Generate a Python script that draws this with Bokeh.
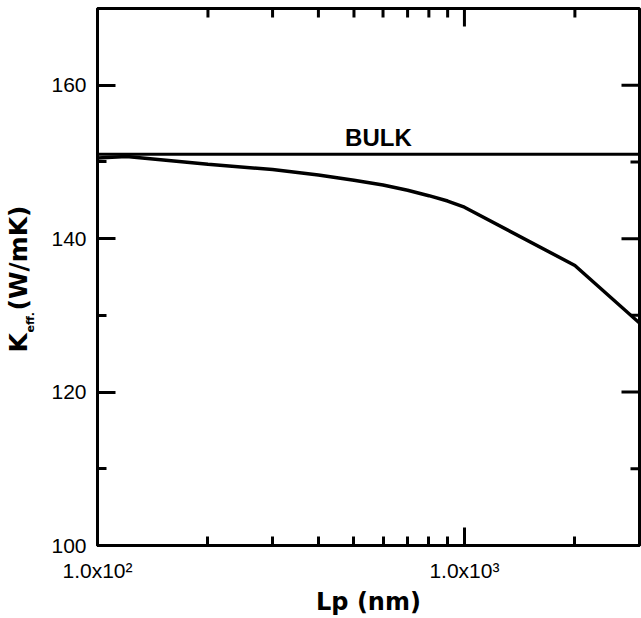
from bokeh.plotting import figure
from bokeh.layouts import row
from bokeh.models import Range1d, FixedTicker, SingleIntervalTicker, Span, Label
from bokeh.embed import file_html
from bokeh.resources import INLINE
import math

# ---- data ----
lp_nm = [100, 120, 200, 300, 400, 500, 600, 700, 800, 900, 1000, 2000, 3000]
k_eff = [150.5, 150.7, 149.7, 149.0, 148.3, 147.6, 147.0, 146.3, 145.6, 144.9, 144.1, 136.5, 129.0]
bulk_k = 151.0
bulk_text = "BULK"
x_major = [100, 1000]
x_minor = [200, 300, 400, 500, 600, 700, 800, 900, 2000, 3000]
x_tick_labels = {100: "1.0x10\u00b2", 1000: "1.0x10\u00b3"}
y_major = [100, 120, 140, 160]
y_minor = [110, 130, 150, 170]
x_title = "Lp (nm)"
y_title_main, y_title_sub, y_title_unit = "K", "eff.", "(W/mK)"

X_MIN, X_MAX = 100, 3000
Y_MIN, Y_MAX = 100, 170
H = 618
LEFT_W = 45
TOP_B, BOT_B = 8, 73

# ---- narrow panel holding the y-axis title (frame aligned with the chart's frame) ----
lp = figure(width=LEFT_W, height=H, x_range=Range1d(0, LEFT_W),
            y_range=Range1d(BOT_B, H - TOP_B),
            output_backend="svg", toolbar_location=None,
            min_border_left=0, min_border_right=0, min_border_top=TOP_B,
            min_border_bottom=BOT_B)
lp.axis.visible = False
lp.grid.visible = False
lp.outline_line_color = None
title_font = dict(text_font="DejaVu Sans", text_font_style="bold", text_color="black",
                  text_align="left", text_baseline="alphabetic", angle=math.pi / 2)
lp.add_layout(Label(x=18, y=H - 352, text=y_title_main, text_font_size="25px", **title_font))
lp.add_layout(Label(x=30, y=H - 332, text=y_title_sub, text_font_size="11px", **title_font))
lp.add_layout(Label(x=18, y=H - 310, text=y_title_unit, text_font_size="25px", **title_font))

# ---- main chart ----
p = figure(width=641 - LEFT_W, height=H, x_axis_type="log",
           x_range=Range1d(X_MIN, X_MAX), y_range=Range1d(Y_MIN, Y_MAX),
           output_backend="svg", toolbar_location=None,
           min_border_left=97 - LEFT_W, min_border_right=2, min_border_top=TOP_B,
           min_border_bottom=BOT_B)
p.xgrid.visible = False
p.ygrid.visible = False
p.outline_line_color = "black"
p.outline_line_width = 3
p.outline_line_alpha = 1.0

def style(ax):
    ax.axis_line_width = 3
    ax.axis_line_color = "black"
    ax.major_tick_line_width = 3
    ax.minor_tick_line_width = 3
    ax.major_tick_line_color = "black"
    ax.minor_tick_line_color = "black"
    ax.major_tick_in = 18
    ax.major_tick_out = 0
    ax.minor_tick_in = 9
    ax.minor_tick_out = 0
    ax.major_label_text_font = "Liberation Sans"
    ax.major_label_text_color = "black"
    ax.major_label_text_font_size = "21px"

xa = p.xaxis[0]
xa.ticker = FixedTicker(ticks=x_major, minor_ticks=x_minor)
style(xa)
xa.major_label_overrides = x_tick_labels
xa.major_label_standoff = 13
xa.axis_label = x_title
xa.axis_label_text_font = "DejaVu Sans"
xa.axis_label_text_font_style = "bold"
xa.axis_label_text_font_size = "24px"
xa.axis_label_text_color = "black"
xa.axis_label_standoff = 3

ya = p.yaxis[0]
ya.ticker = SingleIntervalTicker(interval=20, num_minor_ticks=2)
style(ya)
ya.major_label_standoff = 11

# mirrored ticks on top and right edges
p.ray(x=x_major, y=[Y_MAX] * len(x_major), length=18, length_units="screen",
      angle=-math.pi / 2, line_color="black", line_width=3)
p.ray(x=x_minor, y=[Y_MAX] * len(x_minor), length=9, length_units="screen",
      angle=-math.pi / 2, line_color="black", line_width=3)
p.ray(x=[X_MAX] * len(y_major), y=y_major, length=18, length_units="screen",
      angle=math.pi, line_color="black", line_width=3)
p.ray(x=[X_MAX] * len(y_minor), y=y_minor, length=9, length_units="screen",
      angle=math.pi, line_color="black", line_width=3)

p.add_layout(Span(location=bulk_k, dimension="width", line_color="black", line_width=3))
p.add_layout(Label(x=583, y=153.2, text=bulk_text, text_font="Liberation Sans",
                   text_font_style="bold", text_font_size="24px", text_color="black",
                   text_align="center", text_baseline="alphabetic"))

p.line(lp_nm, k_eff, line_color="black", line_width=3.5)

layout = row(lp, p)
open("out.html", "w").write(file_html(layout, INLINE))
